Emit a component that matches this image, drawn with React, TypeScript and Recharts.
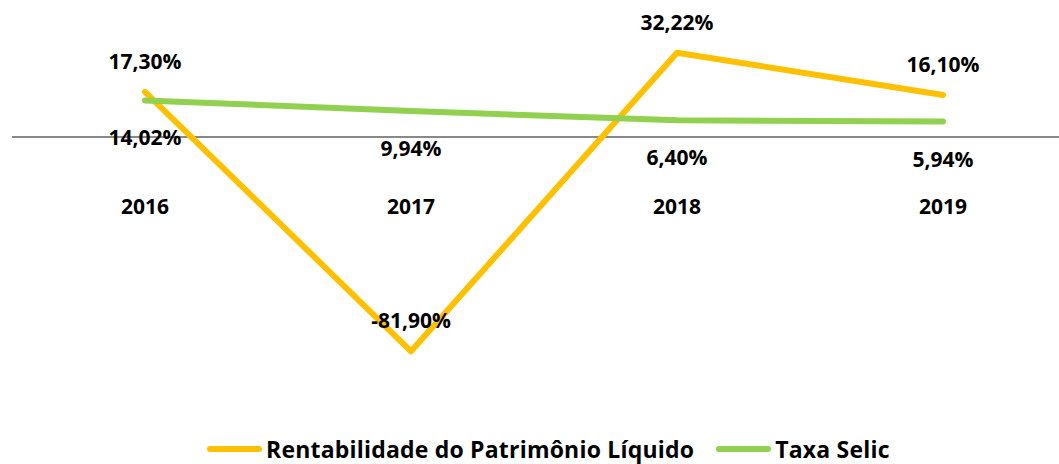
import { LineChart, Line, XAxis, YAxis, ReferenceLine, LabelList, Legend } from 'recharts'

const years = ['2016', '2017', '2018', '2019']
const rentabilidade = [17.3, -81.9, 32.22, 16.1]
const selic = [14.02, 9.94, 6.4, 5.94]

const data = years.map((year, i) => ({ year, rent: rentabilidade[i], selic: selic[i] }))

const W = 1059
const H = 464
const AXIS_H = 1
const Y_MIN = -124.6
const Y_MAX = 52.4
const zeroY = (Y_MAX / (Y_MAX - Y_MIN)) * (H - AXIS_H)
const font = '"Open Sans", Lato, sans-serif'

const pct = (v: number) => v.toFixed(2).replace('.', ',') + '%'

function makeLabel(dy: number) {
  return (props: any) => {
    const { x, y, value } = props
    return (
      <text x={x} y={y + dy} textAnchor="middle" dominantBaseline="central"
        fontFamily={font} fontWeight={700} fontSize={21} fill="#000">
        {pct(value)}
      </text>
    )
  }
}

function YearTick(props: any) {
  const { x, payload } = props
  return (
    <text x={x} y={zeroY + 69} textAnchor="middle" dominantBaseline="central"
      fontFamily={font} fontWeight={700} fontSize={21} fill="#000">
      {payload.value}
    </text>
  )
}

function LegendBox() {
  const item = (color: string, text: string, gap: number) => (
    <div style={{ display: 'flex', alignItems: 'center', marginRight: gap }}>
      <div style={{ width: 55, height: 6, borderRadius: 3, background: color, marginRight: 4 }} />
      <span style={{ fontFamily: font, fontWeight: 700, fontSize: 23, letterSpacing: 0.2, color: '#000', lineHeight: '26px' }}>{text}</span>
    </div>
  )
  return (
    <div style={{ display: 'flex', alignItems: 'center', paddingLeft: 207 }}>
      {item('#FFC000', 'Rentabilidade do Patrimônio Líquido', 22)}
      {item('#92D050', 'Taxa Selic', 0)}
    </div>
  )
}

export default function App() {
  return (
    <div style={{ position: 'absolute', left: 0, top: 0, width: W, height: H, background: '#fff' }}>
      <LineChart width={W} height={H} data={data} margin={{ top: 0, right: 0, bottom: 0, left: 12 }}>
        <XAxis dataKey="year" height={AXIS_H} axisLine={false} tickLine={false}
          padding={{ left: 133, right: 116 }} tick={<YearTick />} interval={0} />
        <YAxis hide domain={[Y_MIN, Y_MAX]} allowDataOverflow />
        <ReferenceLine y={0} stroke="#888888" strokeWidth={2} />
        <Legend verticalAlign="middle" align="center" layout="horizontal"
          wrapperStyle={{ top: 436, left: 0, width: W }} content={() => <LegendBox />} />
        <Line dataKey="rent" stroke="#FFC000" strokeWidth={6} dot={false}
          strokeLinecap="round" strokeLinejoin="round" isAnimationActive={false}>
          <LabelList dataKey="rent" content={makeLabel(-31)} />
        </Line>
        <Line dataKey="selic" stroke="#92D050" strokeWidth={6} dot={false}
          strokeLinecap="round" strokeLinejoin="round" isAnimationActive={false}>
          <LabelList dataKey="selic" content={makeLabel(37)} />
        </Line>
      </LineChart>
    </div>
  )
}
